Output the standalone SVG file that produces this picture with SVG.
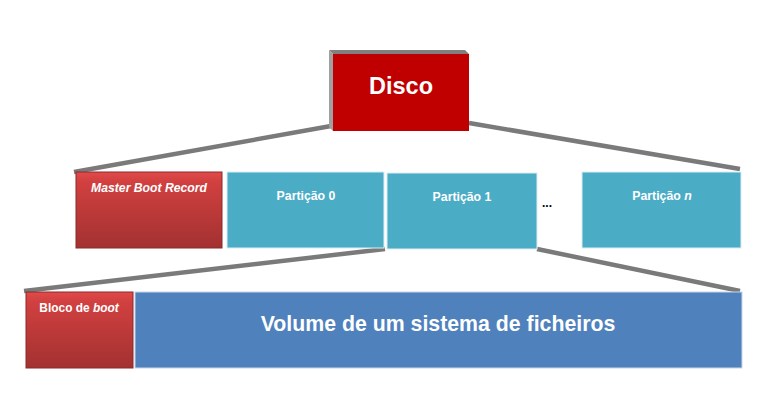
<svg xmlns="http://www.w3.org/2000/svg" width="761" height="418" viewBox="0 0 761 418">
<defs>
<linearGradient id="redg" x1="0" y1="0" x2="0" y2="1">
<stop offset="0" stop-color="#e04a4a"/>
<stop offset="0.12" stop-color="#d24040"/>
<stop offset="1" stop-color="#a33131"/>
</linearGradient>
<style>
.conn{stroke:#7a7a7a;stroke-width:4.5;stroke-linecap:butt;fill:none}
.lbl{font-family:"Liberation Sans",Arial,sans-serif;font-weight:bold;fill:#ffffff;text-anchor:middle}
.part{fill:#4bacc6;stroke:#dcecf2;stroke-width:1}
.redbox{fill:url(#redg);stroke:#8a2a2a;stroke-width:1}
</style>
</defs>
<rect width="761" height="418" fill="#ffffff"/>
<g id="connectors">
<line class="conn" x1="331" y1="126" x2="74" y2="172"/>
<line class="conn" x1="469" y1="123" x2="740" y2="169"/>
<line class="conn" x1="385" y1="249" x2="24" y2="291"/>
<line class="conn" x1="537" y1="249" x2="740" y2="291"/>
</g>
<g id="disco">
<polygon points="329,50 465,50 469,54 333,54" fill="#808080"/>
<polygon points="329,50 333,54 333,131 329,127" fill="#a0a0a0"/>
<rect x="333" y="54" width="136" height="77" fill="#c00000"/>
<text class="lbl" x="401" y="94" font-size="23.5">Disco</text>
</g>
<g id="mbr">
<rect class="redbox" x="76" y="172" width="146" height="76"/>
<text class="lbl" x="149" y="192" font-size="12.2" font-style="italic">Master Boot Record</text>
</g>
<g id="particao0">
<rect class="part" x="227" y="172" width="157" height="76"/>
<text class="lbl" x="306" y="200" font-size="12.3">Partição 0</text>
</g>
<g id="particao1">
<rect class="part" x="387" y="173" width="150" height="76"/>
<text class="lbl" x="462" y="201" font-size="12.3">Partição 1</text>
</g>
<g id="ellipsis">
<text x="547" y="207" font-family="'Liberation Sans',Arial,sans-serif" font-size="12" font-weight="bold" fill="#000000" text-anchor="middle">...</text>
</g>
<g id="particaon">
<rect class="part" x="582" y="172" width="159" height="76"/>
<text class="lbl" x="662" y="200" font-size="12.3">Partição <tspan font-style="italic">n</tspan></text>
</g>
<g id="bloco">
<rect class="redbox" x="26" y="292" width="107" height="76"/>
<text class="lbl" x="79" y="312" font-size="11.9">Bloco de <tspan font-style="italic">boot</tspan></text>
</g>
<g id="volume">
<rect x="135" y="292" width="607" height="76" fill="#4f81bd" stroke="#c8d6ea" stroke-width="1"/>
<text class="lbl" x="438" y="331" font-size="21.3">Volume de um sistema de ficheiros</text>
</g>
</svg>
